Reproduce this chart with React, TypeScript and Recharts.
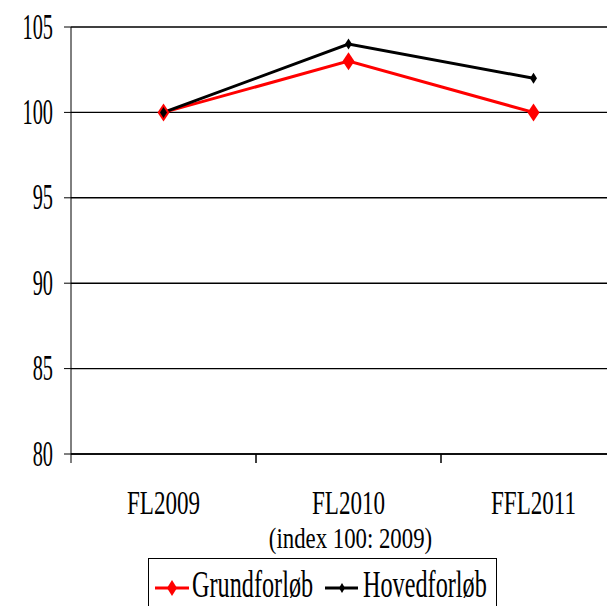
import { CartesianGrid, Label, Legend, Line, LineChart, XAxis, YAxis } from "recharts";

const categories = ["FL2009", "FL2010", "FFL2011"];
const grundforlob = [100, 103, 100];
const hovedforlob = [100, 104, 102];
const yTicks = [80, 85, 90, 95, 100, 105];

const data = categories.map((name, i) => ({
  name,
  grund: grundforlob[i],
  hoved: hovedforlob[i],
}));

const FONT = "Liberation Serif";

// the source font is a very narrow serif, so squeeze Liberation Serif sideways
function CondText({ x, y, anchor = "middle", size = 35, sx = 0.66, children }: any) {
  return (
    <text
      transform={`translate(${x},${y}) scale(${sx},1)`}
      textAnchor={anchor}
      style={{ fontFamily: FONT, fontSize: size }}
      fill="#000"
    >
      {children}
    </text>
  );
}

const diamond = (cx: number, cy: number, w: number, h: number) =>
  `M${cx},${cy - h}L${cx + w},${cy}L${cx},${cy + h}L${cx - w},${cy}Z`;

const RedDot = (p: any) => (
  <path key={`r${p.index}`} d={diamond(p.cx, p.cy, 6, 9)} fill="#ff0000" />
);
const BlackDot = (p: any) => (
  <path key={`b${p.index}`} d={diamond(p.cx, p.cy, 3.5, 5.5)} fill="#000" />
);

const YTick = ({ x, y, payload }: any) => (
  <CondText x={x} y={y + 11.5} anchor="end" sx={0.58}>
    {payload.value}
  </CondText>
);

// category labels centred in the band, tick marks on the band edges
const XTick = ({ x, y, payload, width, visibleTicksCount }: any) => {
  const half = width / visibleTicksCount / 2;
  return (
    <g>
      <line x1={x - half} x2={x - half} y1={y} y2={y + 9} stroke="#000" />
      <line x1={x + half} x2={x + half} y1={y} y2={y + 9} stroke="#000" />
      <CondText x={x} y={y + 60} size={33} sx={0.7}>
        {payload.value}
      </CondText>
    </g>
  );
};

function LegendBox() {
  return (
    <svg width={349} height={60} style={{ display: "block" }}>
      <rect x={0.5} y={0.5} width={348} height={70} fill="#fff" stroke="#000" />
      <line x1={7} x2={41} y1={30} y2={30} stroke="#ff0000" strokeWidth={3} />
      <path d={diamond(24, 30, 5, 8)} fill="#ff0000" />
      <CondText x={44} y={39} anchor="start" size={37} sx={0.655}>
        Grundforløb
      </CondText>
      <line x1={177} x2={210} y1={30} y2={30} stroke="#000" strokeWidth={3} />
      <path d={diamond(194, 30, 3, 5)} fill="#000" />
      <CondText x={215} y={39} anchor="start" size={37} sx={0.655}>
        Hovedforløb
      </CondText>
    </svg>
  );
}

export default function App() {
  return (
    <div
      style={{
        position: "absolute",
        left: 0,
        top: 0,
        width: 607,
        height: 606,
        overflow: "hidden",
        background: "#fff",
      }}
    >
      <LineChart
        width={626}
        height={660}
        data={data}
        margin={{ top: 27, right: 0, left: 0, bottom: 205 }}
      >
        <CartesianGrid
          xAxisId="cat"
          vertical={false}
          stroke="#000"
          strokeWidth={1.4}
        />
        <XAxis
          xAxisId="cat"
          dataKey="name"
          scale="band"
          height={1}
          tickLine={false}
          tickSize={0}
          tickMargin={0}
          axisLine={{ stroke: "#000", strokeWidth: 1.5 }}
          tick={<XTick />}
          interval={0}
        >
          <Label
            content={({ viewBox }: any) => (
              <CondText
                x={viewBox.x + viewBox.width / 2 + 2}
                y={viewBox.y + 94}
                size={30}
                sx={0.76}
              >
                (index 100: 2009)
              </CondText>
            )}
          />
        </XAxis>
        <YAxis
          width={71}
          domain={[80, 105]}
          ticks={yTicks}
          interval={0}
          tickSize={7}
          tickMargin={11}
          axisLine={{ stroke: "#000", strokeWidth: 1 }}
          tickLine={{ stroke: "#000", strokeWidth: 1 }}
          tick={<YTick />}
        />
        <Legend
          verticalAlign="middle"
          layout="horizontal"
          content={() => <LegendBox />}
          wrapperStyle={{ position: "absolute", left: 148, top: 558, width: 349, height: 60 }}
        />
        <Line
          xAxisId="cat"
          dataKey="grund"
          name="Grundforløb"
          stroke="#ff0000"
          strokeWidth={3}
          dot={RedDot}
          isAnimationActive={false}
        />
        <Line
          xAxisId="cat"
          dataKey="hoved"
          name="Hovedforløb"
          stroke="#000"
          strokeWidth={3}
          dot={BlackDot}
          isAnimationActive={false}
        />
      </LineChart>
    </div>
  );
}
